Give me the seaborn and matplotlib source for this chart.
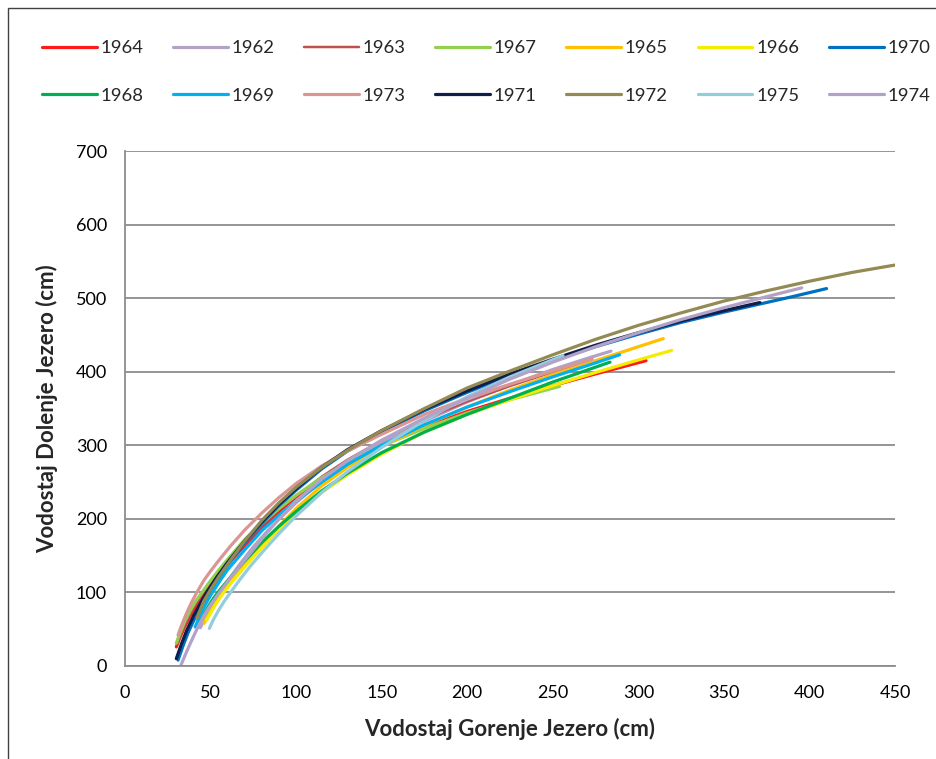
import matplotlib
matplotlib.use("Agg")
import matplotlib.pyplot as plt
from matplotlib.lines import Line2D
from matplotlib.patches import Rectangle
import seaborn as sns
import pandas as pd

# Rating curves: upper-lake stage (x) vs lower-lake stage (y), in cm, per year
x_1964 = [30, 32, 35, 38, 42, 46, 50, 55, 60, 70, 80, 90, 100, 115, 130, 150, 175, 200, 225, 250, 275, 304.5]
y_1964 = [26, 38, 54, 68, 84, 98, 110, 124, 138, 164, 188, 210, 230, 256, 277, 300, 325, 346, 364, 381, 397, 415]
x_1962 = [44, 47, 50, 55, 60, 67, 75, 85, 100, 115, 130, 150, 175, 200, 225, 250, 270, 284]
y_1962 = [52, 66, 79, 98, 115, 138, 162, 188, 222, 252, 277, 304, 333, 359, 382, 403, 418, 428]
x_1963 = [31, 33, 36, 40, 45, 50, 55, 62, 70, 80, 90, 100, 115, 130, 150, 175, 200, 225, 250, 265]
y_1963 = [30, 43, 60, 78, 97, 113, 127, 146, 166, 190, 212, 231, 258, 281, 307, 335, 359, 380, 399, 410]
x_1967 = [30, 32, 35, 38, 41, 45, 50, 55, 60, 70, 80, 90, 100, 115, 130, 150, 175, 200, 225, 254]
y_1967 = [31, 44, 61, 75, 87, 100, 116, 131, 145, 172, 194, 214, 232, 256, 276, 299, 323, 344, 362, 380]
x_1965 = [46.2, 48, 51, 55, 60, 65, 70, 80, 90, 100, 115, 130, 150, 175, 200, 225, 250, 275, 300, 314.6]
y_1965 = [58, 66, 78, 92, 108, 123, 137, 164, 190, 214, 245, 270, 298, 327, 352, 375, 396, 415, 434, 445]
x_1966 = [47.7, 50, 53, 56, 60, 65, 70, 80, 90, 100, 115, 130, 150, 175, 200, 225, 250, 275, 300, 319.5]
y_1966 = [62, 72, 84, 95, 107, 121, 135, 161, 186, 207, 236, 260, 288, 318, 342, 362, 381, 399, 416, 429]
x_1970 = [31, 34, 37, 41, 45, 49, 55, 60, 70, 80, 90, 100, 115, 130, 150, 175, 200, 225, 250, 275, 300, 325, 350, 371, 390, 410]
y_1970 = [8, 28, 46, 66, 83, 99, 120, 138, 168, 194, 218, 239, 268, 292, 318, 347, 372, 395, 415, 434, 451, 467, 481, 492, 502, 513]
x_1968 = [43.8, 46, 49, 52, 56, 60, 65, 70, 80, 90, 100, 115, 130, 150, 175, 200, 225, 250, 283.4]
y_1968 = [60, 70, 82, 93, 105, 116, 130, 143, 168, 190, 210, 238, 262, 290, 318, 342, 364, 386, 413]
x_1969 = [41, 43, 46, 50, 55, 60, 70, 80, 90, 100, 115, 130, 150, 175, 200, 225, 250, 275, 289]
y_1969 = [53, 64, 79, 96, 114, 131, 158, 184, 205, 224, 250, 274, 300, 328, 352, 373, 393, 412, 423]
x_1973 = [31, 33, 36, 39, 42, 46, 50, 55, 62, 70, 80, 90, 100, 115, 130, 150, 175, 200, 225, 250, 273]
y_1973 = [42, 55, 72, 87, 100, 116, 129, 144, 164, 185, 208, 229, 248, 272, 292, 315, 342, 364, 383, 401, 417]
x_1971 = [30, 33, 36, 40, 44, 48, 54, 60, 70, 80, 90, 100, 115, 130, 150, 175, 200, 225, 250, 275, 300, 325, 350, 371]
y_1971 = [10, 30, 48, 68, 85, 101, 122, 141, 170, 196, 220, 241, 270, 294, 320, 349, 374, 397, 417, 436, 453, 469, 483, 494]
x_1972 = [42, 46, 50, 55, 62, 70, 80, 90, 100, 115, 130, 150, 175, 200, 225, 250, 275, 300, 325, 350, 375, 400, 425, 450]
y_1972 = [65, 88, 104, 122, 145, 170, 198, 222, 243, 270, 293, 320, 350, 378, 401, 423, 444, 463, 480, 496, 510, 523, 535, 545]
x_1975 = [49.3, 51, 54, 58, 62, 67, 73, 80, 90, 100, 115, 130, 150, 175, 200, 225, 256]
y_1975 = [51, 60, 73, 88, 101, 117, 135, 154, 180, 204, 236, 264, 297, 334, 366, 393, 422]
x_1974 = [32.5, 35, 38, 42, 46, 50, 55.5, 62, 70, 80, 90, 100, 115, 130, 150, 175, 200, 225, 250, 275, 300, 325, 350, 375, 395.5]
y_1974 = [0, 14, 30, 50, 68, 83, 101, 121, 144, 173, 200, 224, 254, 279, 307, 337, 364, 390, 413, 434, 453, 471, 487, 502, 514]

years = ["1964", "1962", "1963", "1967", "1965", "1966", "1970",
         "1968", "1969", "1973", "1971", "1972", "1975", "1974"]
series_x = [x_1964, x_1962, x_1963, x_1967, x_1965, x_1966, x_1970,
            x_1968, x_1969, x_1973, x_1971, x_1972, x_1975, x_1974]
series_y = [y_1964, y_1962, y_1963, y_1967, y_1965, y_1966, y_1970,
            y_1968, y_1969, y_1973, y_1971, y_1972, y_1975, y_1974]

x_ticks = [0, 50, 100, 150, 200, 250, 300, 350, 400, 450]
y_ticks = [0, 100, 200, 300, 400, 500, 600, 700]

colors = {
    "1964": "#FF1A1A", "1962": "#B3A2C7", "1963": "#C0504D", "1967": "#92D050",
    "1965": "#FFC000", "1966": "#F5EC00", "1970": "#0070C0", "1968": "#00B050",
    "1969": "#00B0F0", "1973": "#D99694", "1971": "#0F1E4A", "1972": "#948A54",
    "1975": "#92CDDC", "1974": "#B3A2C7",
}
widths = {y: 2.3 for y in years}
widths["1963"] = 1.2

frames = []
for yr, xs, ys in zip(years, series_x, series_y):
    frames.append(pd.DataFrame({"gorenje": xs, "dolenje": ys, "year": yr}))
df = pd.concat(frames, ignore_index=True)

sns.set_theme(style="white")
plt.rcParams["font.family"] = ["Lato", "DejaVu Sans"]

fig = plt.figure(figsize=(9.37, 7.59), dpi=100)
ax = fig.add_axes([125 / 937, 93 / 759, 770 / 937, 515 / 759])

for yr in years:
    sub = df[df["year"] == yr]
    sns.lineplot(data=sub, x="gorenje", y="dolenje", ax=ax, color=colors[yr],
                 linewidth=widths[yr], sort=False, estimator=None,
                 legend=False, solid_capstyle="round", solid_joinstyle="round")

ax.set_xlim(0, 450)
ax.set_ylim(0, 700)
ax.set_xticks(x_ticks)
ax.set_yticks(y_ticks)
ax.set_xticklabels([str(v) for v in x_ticks])
ax.set_yticklabels([str(v) for v in y_ticks])
ax.tick_params(axis="both", length=0, labelsize=13, colors="#000000")
ax.tick_params(axis="y", pad=13)
ax.tick_params(axis="x", pad=14)

ax.yaxis.grid(True, color="#8C8C8C", linewidth=1.3)
ax.xaxis.grid(False)
ax.set_axisbelow(True)
for side in ["top", "right"]:
    ax.spines[side].set_visible(False)
for side in ["left", "bottom"]:
    ax.spines[side].set_color("#8C8C8C")
    ax.spines[side].set_linewidth(1.3)

ax.set_xlabel("Vodostaj Gorenje Jezero (cm)", fontsize=16, fontweight="bold",
              labelpad=12)
ax.set_ylabel("Vodostaj Dolenje Jezero (cm)", fontsize=16, fontweight="bold",
              labelpad=13)

# Legend laid out row by row in two rows of seven
row1 = years[:7]
row2 = years[7:]
order = []
for a, b in zip(row1, row2):
    order += [a, b]
handles = [Line2D([0], [0], color=colors[y], lw=widths[y] + (0.6 if y == "1963" else 0))
           for y in order]
fig.legend(handles, order, ncol=7, loc="upper left",
           bbox_to_anchor=(42 / 937, 1 - 40 / 759), frameon=False,
           fontsize=13.3, handlelength=2.97, handletextpad=0.2,
           columnspacing=1.6, labelspacing=1.72, borderpad=0, borderaxespad=0)

# Chart-area border
fig.patches.append(Rectangle((8 / 937, -0.1), 1.2, 1 - 8 / 759 + 0.1,
                             transform=fig.transFigure, fill=False,
                             edgecolor="#404040", linewidth=1.0))

fig.savefig("out.png", dpi=100)
